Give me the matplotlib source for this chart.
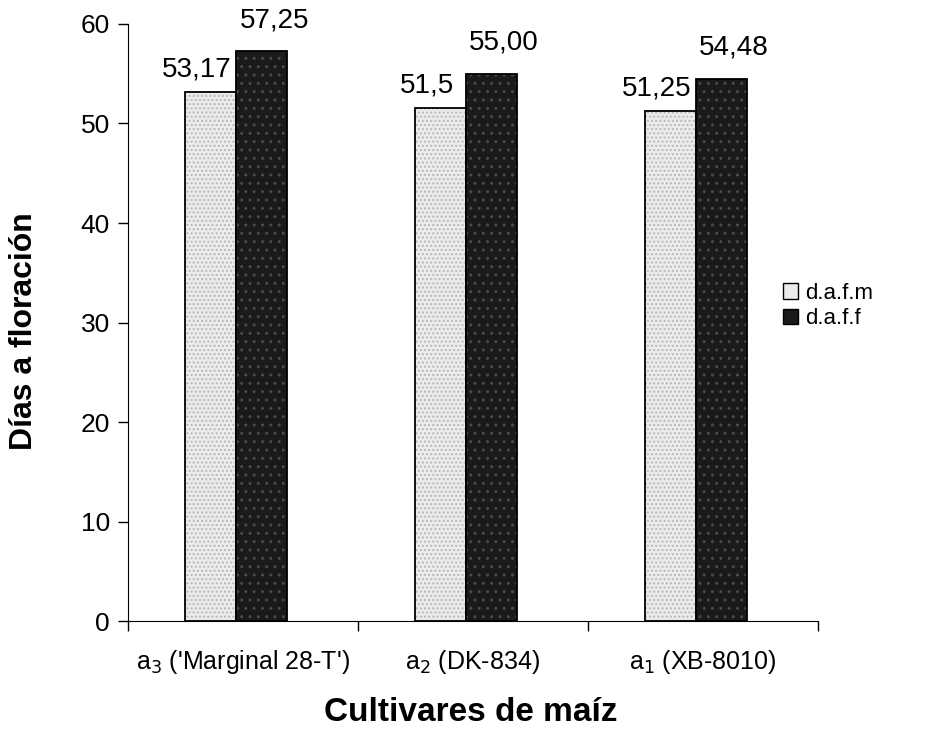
import matplotlib.pyplot as plt
import numpy as np
from matplotlib.patches import Patch

plt.rcParams['font.family'] = ['Liberation Sans', 'DejaVu Sans']

# data
cultivares = ["a$_3$ ('Marginal 28-T')", "a$_2$ (DK-834)", "a$_1$ (XB-8010)"]
dafm = [53.17, 51.5, 51.25]
daff = [57.25, 55.00, 54.48]
dafm_labels = ["53,17", "51,5", "51,25"]
daff_labels = ["57,25", "55,00", "54,48"]

fig = plt.figure(figsize=(9.28, 7.45), dpi=100)
ax = fig.add_axes([0.138, 0.166, 0.743, 0.802])

x = np.arange(len(cultivares)) - 0.03
w = 0.222

# light bars (stippled look)
ax.bar(x - w / 2, dafm, w, color="#ececec", hatch="....", edgecolor="#b8b8b8", linewidth=0)
ax.bar(x - w / 2, dafm, w, fill=False, edgecolor="black", linewidth=1.3)
# dark bars
ax.bar(x + w / 2, daff, w, color="#1a1a1a", hatch="..", edgecolor="#4a4a4a", linewidth=0)
ax.bar(x + w / 2, daff, w, fill=False, edgecolor="black", linewidth=1.3)

for i in range(len(x)):
    ax.annotate(dafm_labels[i], (x[i] - w / 2 - 0.06, dafm[i]), xytext=(0, 7),
                textcoords="offset points", ha="center", va="bottom", fontsize=20)
    ax.annotate(daff_labels[i], (x[i] + w / 2 + 0.055, daff[i]), xytext=(0, 13),
                textcoords="offset points", ha="center", va="bottom", fontsize=20)

ax.set_xlim(-0.5, 2.5)
ax.set_ylim(0, 60)
ax.set_yticks(range(0, 61, 10))
ax.tick_params(axis="y", labelsize=19, length=7, width=1, direction="out", pad=6)

# category boundaries as ticks, names between them
ax.set_xticks([-0.5, 0.5, 1.5, 2.5])
ax.set_xticklabels([])
ax.tick_params(axis="x", which="major", length=7, width=1, direction="out")
ax.set_xticks(np.arange(len(cultivares)), minor=True)
ax.set_xticklabels(cultivares, minor=True, fontsize=18)
ax.tick_params(axis="x", which="minor", length=0, pad=19)

ax.spines["top"].set_visible(False)
ax.spines["right"].set_visible(False)

fig.text(0.026, 0.556, "Días a floración", fontsize=23, fontweight="bold",
         rotation=90, ha="center", va="center")
fig.text(0.507, 0.044, "Cultivares de maíz", fontsize=24, fontweight="bold",
         ha="center", va="center")

handles = [Patch(facecolor="#ececec", edgecolor="black", label="d.a.f.m"),
           Patch(facecolor="#1a1a1a", edgecolor="black", label="d.a.f.f")]
fig.legend(handles=handles, loc="center left", bbox_to_anchor=(0.822, 0.589),
           frameon=False, fontsize=16, handlelength=0.7, handleheight=0.7,
           handletextpad=0.3, labelspacing=0.2)

plt.savefig("out.png", dpi=100)
